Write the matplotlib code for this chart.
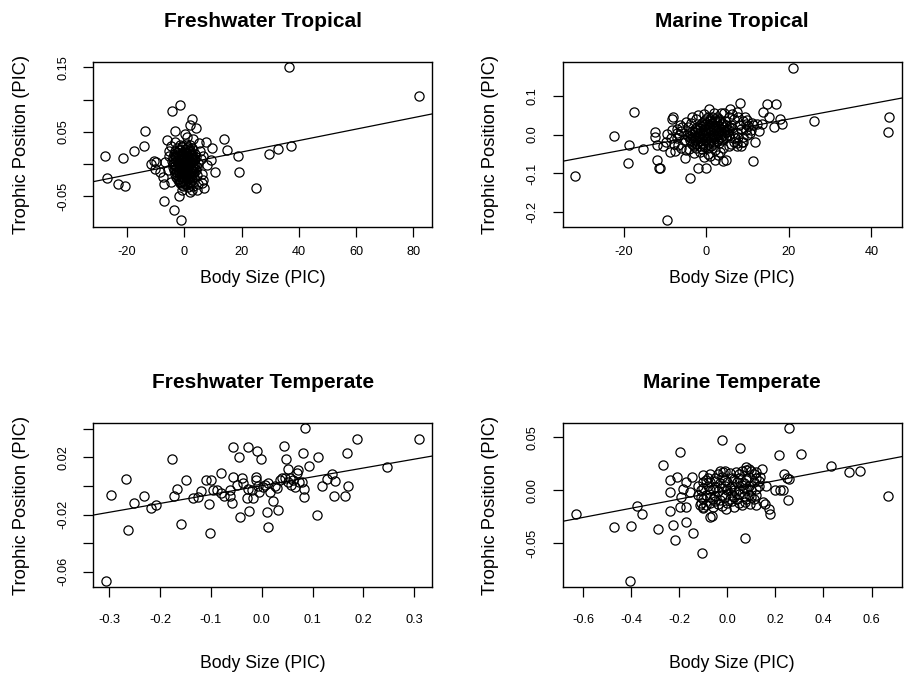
import numpy as np
import matplotlib

matplotlib.use("Agg")
import matplotlib.pyplot as plt

plt.rcParams["font.family"] = ["Liberation Sans", "DejaVu Sans"]
plt.rcParams["axes.unicode_minus"] = False

# ── data: (body size PIC, trophic position PIC) ──

fw_trop = np.array([
    # outliers / scattered
    (36.6, 0.150), (81.9, 0.105), (-1.7, 0.091), (-4.4, 0.082), (2.8, 0.070),
    (1.9, 0.060), (4.0, 0.056), (-13.6, 0.051), (-3.2, 0.051), (13.7, 0.038),
    (-14.2, 0.028), (-17.5, 0.020), (-27.6, 0.012), (-21.4, 0.009), (15.0, 0.022),
    (18.8, 0.012), (29.7, 0.015), (32.7, 0.023), (37.4, 0.028), (-26.9, -0.022),
    (-23.3, -0.031), (-20.7, -0.034), (24.9, -0.037), (19.0, -0.012), (10.8, -0.012),
    (6.9, -0.037), (-1.8, -0.050), (-7.1, -0.058), (-3.5, -0.072), (-1.3, -0.088),
    (1.9, -0.043), (-10.6, 0.004), (-11.5, 0.000), (-9.8, 0.003), (-7.2, -0.031),
    (-7.4, -0.020), (-8.6, -0.012), (-10.3, -0.008), (-3.4, 0.034), (-6.7, 0.003),
    (6.5, -0.025), (9.7, 0.025), (7.7, 0.034), (5.1, 0.032), (5.9, 0.008),
    (9.4, 0.006), (7.9, -0.002), (-6.0, 0.037), (-5.3, 0.013), (3.0, 0.039),
    (0.1, 0.046), (-1.6, -0.028), (6.0, -0.030), (-5.5, 0.020), (-5.8, -0.010),
    (5.5, 0.020), (6.0, -0.015), (4.8, -0.031), (-4.5, -0.028), (4.5, -0.040),
    (-4.8, 0.028), (1.0, 0.042), (-1.0, -0.040), (2.5, -0.040), (6.5, 0.012),
    # dense core
    (-1.5, 0.030), (0.5, 0.031), (2.0, 0.029),
    (-2.5, 0.025), (-0.8, 0.026), (1.0, 0.024), (2.8, 0.025),
    (-3.2, 0.020), (-1.8, 0.021), (-0.2, 0.019), (1.5, 0.020), (3.0, 0.021),
    (-3.8, 0.015), (-2.2, 0.014), (-0.8, 0.016), (0.8, 0.015), (2.2, 0.014), (3.6, 0.015),
    (-4.0, 0.010), (-2.8, 0.011), (-1.3, 0.009), (0.2, 0.010), (1.6, 0.011), (3.0, 0.009), (4.2, 0.010),
    (-4.2, 0.005), (-2.6, 0.004), (-1.0, 0.006), (0.5, 0.005), (2.0, 0.004), (3.4, 0.006),
    (-3.9, 0.000), (-2.4, 0.001), (-0.9, -0.001), (0.6, 0.000), (2.1, 0.001), (3.8, -0.001),
    (-4.1, -0.005), (-2.7, -0.004), (-1.4, -0.006), (0.1, -0.005), (1.5, -0.004), (3.0, -0.006), (4.3, -0.005),
    (-3.6, -0.010), (-2.0, -0.011), (-0.5, -0.009), (1.0, -0.010), (2.6, -0.011), (4.0, -0.009),
    (-3.3, -0.015), (-1.8, -0.014), (-0.2, -0.016), (1.4, -0.015), (3.0, -0.014),
    (-2.8, -0.020), (-1.1, -0.021), (0.4, -0.019), (2.0, -0.020), (3.5, -0.021),
    (-2.2, -0.025), (-0.6, -0.026), (1.0, -0.024), (2.6, -0.025),
    (-1.5, -0.030), (0.2, -0.031), (1.8, -0.029),
    (-0.6, -0.035), (1.2, -0.036), (3.0, -0.034),
    (-0.7, 0.028), (1.2, 0.027),
    (-1.6, 0.022), (0.2, 0.023), (2.0, 0.022),
    (-2.6, 0.018), (-1.0, 0.017), (0.7, 0.018), (2.3, 0.017),
    (-3.2, 0.012), (-1.8, 0.013), (-0.2, 0.012), (1.2, 0.013), (2.8, 0.012),
    (-3.4, 0.008), (-2.0, 0.007), (-0.3, 0.008), (1.2, 0.007), (2.6, 0.008), (3.8, 0.007),
    (-3.3, 0.003), (-1.7, 0.002), (-0.2, 0.003), (1.3, 0.002), (2.8, 0.003), (4.6, 0.002),
    (-3.2, -0.003), (-1.6, -0.002), (-0.1, -0.003), (1.4, -0.002), (2.9, -0.003),
    (-3.3, -0.008), (-2.0, -0.007), (-0.6, -0.008), (0.8, -0.007), (2.3, -0.008), (3.6, -0.007),
    (-2.8, -0.013), (-1.2, -0.012), (0.3, -0.013), (1.8, -0.012), (3.3, -0.013),
    (-2.5, -0.018), (-1.0, -0.017), (0.6, -0.018), (2.2, -0.017), (4.4, -0.018),
    (-1.9, -0.023), (-0.3, -0.022), (1.3, -0.023), (2.8, -0.022),
    (-1.3, -0.028), (0.5, -0.027), (2.0, -0.028),
    (-0.8, -0.033), (0.8, -0.032), (2.3, -0.033),
])

mar_trop = np.array([
    # outliers / scattered
    (21.0, 0.172), (26.1, 0.036), (44.2, 0.046), (44.0, 0.007), (-31.8, -0.106),
    (-17.5, 0.059), (-22.3, -0.003), (-18.6, -0.028), (-19.0, -0.072), (-15.4, -0.037),
    (-9.6, -0.219), (-3.9, -0.112), (-12.0, -0.065), (-11.4, -0.086), (-11.2, -0.085),
    (-1.9, -0.086), (-0.1, -0.086), (11.2, -0.067), (14.6, 0.079), (16.8, 0.079),
    (8.2, 0.081), (13.7, 0.059), (15.3, 0.046), (16.5, 0.020), (18.4, 0.028),
    (17.8, 0.040), (12.8, 0.009), (11.8, -0.018), (7.5, -0.030), (4.1, -0.069),
    (4.8, -0.065), (2.1, -0.065), (3.3, -0.044), (0.7, 0.065), (5.7, 0.067),
    (7.4, 0.059), (-8.4, 0.040), (-8.0, 0.046), (-3.5, 0.046), (-12.4, 0.006),
    (-12.4, -0.005), (-12.0, -0.026), (-9.6, 0.001), (-9.8, -0.018), (-8.8, -0.044),
    (-7.6, -0.042), (-5.2, -0.061), (-6.4, 0.025), (-7.2, -0.009), (9.8, 0.038),
    (10.2, 0.021), (11.4, 0.025), (7.4, -0.022), (8.6, -0.018), (9.8, 0.000),
    (11.0, 0.029), (12.2, 0.028), (13.4, 0.028), (9.4, 0.046), (9.0, -0.018),
    (-10.5, -0.030), (-7.0, 0.015), (6.8, 0.040), (8.8, 0.035), (1.0, -0.056),
    (-6.0, 0.010), (-5.5, -0.015), (-6.8, -0.028), (-5.0, -0.040), (-4.5, 0.020),
    (-2.5, 0.040), (-6.5, 0.000), (7.5, 0.005), (8.0, 0.025), (7.0, -0.010),
    (6.0, -0.025), (5.5, 0.045), (3.5, 0.055), (9.0, -0.005), (9.5, 0.012),
    (10.5, 0.003), (2.0, -0.040), (-1.5, -0.045), (0.5, -0.050),
    (-8.5, -0.010), (-7.8, -0.025), (-7.0, 0.005), (-8.2, 0.012), (-6.2, -0.035),
    (-5.8, 0.020), (-4.8, 0.032), (-3.6, 0.030), (-2.0, 0.050), (-0.5, 0.052),
    (1.8, 0.056), (4.4, 0.056), (6.3, 0.052), (7.8, 0.045), (8.5, 0.015),
    (7.8, -0.005), (6.8, -0.018), (5.5, -0.030), (4.0, -0.035), (2.8, -0.052),
    (-0.5, -0.058), (-3.0, -0.048), (-4.2, -0.038), (10.8, 0.012), (8.4, -0.030),
    (9.6, 0.028),
    # dense core
    (0.5, 0.045), (1.5, 0.046), (2.5, 0.044),
    (-0.5, 0.035), (0.8, 0.036), (2.0, 0.034), (3.2, 0.035), (4.5, 0.036),
    (-1.5, 0.025), (-0.3, 0.026), (1.0, 0.024), (2.2, 0.025), (3.5, 0.026), (4.8, 0.024), (6.0, 0.025),
    (-2.8, 0.015), (-1.5, 0.016), (-0.2, 0.014), (1.0, 0.015), (2.3, 0.016), (3.6, 0.014), (4.9, 0.015), (6.2, 0.016),
    (-4.0, 0.005), (-2.7, 0.006), (-1.4, 0.004), (-0.1, 0.005), (1.2, 0.006), (2.5, 0.004), (3.8, 0.005), (5.1, 0.006), (6.4, 0.004),
    (-4.3, -0.005), (-3.0, -0.004), (-1.7, -0.006), (-0.4, -0.005), (0.9, -0.004), (2.2, -0.006), (3.5, -0.005), (4.8, -0.004),
    (-4.0, -0.015), (-2.7, -0.014), (-1.4, -0.016), (-0.1, -0.015), (1.2, -0.014), (2.5, -0.016), (3.8, -0.015),
    (-3.5, -0.025), (-2.2, -0.024), (-0.9, -0.026), (0.4, -0.025), (1.7, -0.024),
    (-2.5, -0.035), (-1.0, -0.036), (0.5, -0.034),
    (0.0, 0.040), (1.0, 0.041), (2.0, 0.039), (3.0, 0.040),
    (-1.0, 0.030), (0.2, 0.031), (1.4, 0.029), (2.6, 0.030), (3.9, 0.031),
    (-2.2, 0.020), (-0.9, 0.021), (0.4, 0.019), (1.6, 0.020), (2.9, 0.021), (4.2, 0.019), (5.4, 0.020),
    (-3.4, 0.010), (-2.1, 0.011), (-0.8, 0.009), (0.5, 0.010), (1.8, 0.011), (3.0, 0.009), (4.3, 0.010), (5.6, 0.011),
    (-4.6, 0.000), (-3.4, 0.001), (-2.0, -0.001), (-0.8, 0.000), (0.5, 0.001), (1.6, -0.001), (2.9, 0.000), (4.2, 0.001), (5.5, -0.001),
    (-3.6, -0.010), (-2.4, -0.009), (-1.0, -0.011), (0.3, -0.010), (1.5, -0.009), (2.9, -0.011), (4.1, -0.010),
    (-3.3, -0.020), (-2.0, -0.019), (-0.7, -0.021), (0.6, -0.020), (1.9, -0.019), (3.1, -0.021),
    (-2.9, -0.030), (-1.6, -0.029), (-0.2, -0.031), (1.1, -0.030),
])

fw_temp = np.array([
    (-0.3075, -0.0667), (-0.2964, -0.0063), (-0.2675, 0.0047), (-0.2630, -0.0308),
    (-0.2510, -0.0119), (-0.2315, -0.0070), (-0.2180, -0.0156), (-0.2090, -0.0133),
    (-0.1757, 0.0189), (-0.1725, -0.0070), (-0.1660, -0.0019), (-0.1590, -0.0268),
    (-0.1500, 0.0040), (-0.1357, -0.0086), (-0.1246, -0.0075), (-0.1190, -0.0035),
    (-0.1095, 0.0042), (-0.1030, -0.0126), (-0.1016, -0.0327), (-0.1000, 0.0042),
    (-0.0950, -0.0028), (-0.0885, -0.0028), (-0.0807, 0.0089), (-0.0740, -0.0070),
    (-0.0623, -0.0028), (-0.0577, -0.0117), (-0.0557, 0.0065), (-0.0557, 0.0271),
    (-0.0490, 0.0007), (-0.0452, 0.0205), (-0.0426, -0.0215), (-0.0393, 0.0054),
    (-0.0360, 0.0019), (-0.0295, -0.0086), (-0.0262, 0.0271), (-0.0243, -0.0175),
    (-0.0197, -0.0028), (-0.0164, -0.0086), (-0.0118, 0.0065), (-0.0111, 0.0042),
    (-0.0085, 0.0245), (-0.0046, -0.0040), (-0.0020, 0.0187), (0.0033, -0.0005),
    (0.0098, -0.0180), (0.0118, 0.0019), (0.0125, -0.0289), (0.0164, -0.0040),
    (0.0216, -0.0103), (0.0262, 0.0000), (0.0315, -0.0168), (0.0360, 0.0042),
    (0.0393, 0.0054), (0.0439, 0.0280), (0.0479, 0.0189), (0.0525, 0.0117),
    (0.0557, 0.0058), (0.0610, 0.0042), (0.0656, -0.0005), (0.0690, 0.0089),
    (0.0708, 0.0112), (0.0787, 0.0028), (0.0807, 0.0229), (0.0833, -0.0023),
    (0.0840, -0.0079), (0.0852, 0.0404), (0.0938, 0.0140), (0.1082, -0.0201),
    (0.1115, 0.0201), (0.1180, 0.0000), (0.1279, 0.0047), (0.1377, 0.0084),
    (0.1423, -0.0070), (0.1449, 0.0037), (0.1639, -0.0070), (0.1685, 0.0229),
    (0.1705, 0.0000), (0.1882, 0.0327), (0.2459, 0.0135), (0.3089, 0.0327),
    (0.0295, -0.0016), (0.0459, 0.0054), (0.0520, 0.0030), (0.0070, 0.0010),
    (-0.0070, 0.0000), (-0.0270, -0.0020), (-0.0800, -0.0050), (-0.0620, -0.0070),
    (0.0740, 0.0030), (0.0580, 0.0010),
])

mar_temp = np.array([
    # outliers / scattered
    (0.258, 0.0585), (-0.021, 0.0475), (0.0516, 0.0400), (-0.198, 0.0361), (0.215, 0.0336),
    (0.306, 0.0340), (-0.267, 0.0236), (0.431, 0.0230), (0.506, 0.0173), (0.552, 0.0180),
    (0.669, -0.0054), (-0.630, -0.0220), (-0.472, -0.0346), (-0.402, -0.0337), (-0.406, -0.0859),
    (-0.375, -0.0148), (-0.353, -0.0227), (-0.287, -0.0368), (-0.237, -0.0198), (-0.226, -0.0330),
    (-0.219, -0.0466), (-0.170, -0.0300), (-0.143, -0.0403), (-0.105, -0.0588), (0.072, -0.0450),
    (-0.237, -0.0016), (-0.209, 0.0125), (-0.240, 0.0094), (-0.147, 0.0130), (-0.170, 0.0078),
    (-0.184, 0.0015), (-0.191, -0.0063), (-0.173, -0.0157), (-0.195, -0.0157), (-0.156, -0.0016),
    (-0.115, -0.0142), (-0.100, -0.0170), (-0.073, -0.0250), (-0.064, -0.0243), (-0.007, -0.0180),
    (0.072, -0.0110), (0.093, -0.0126), (0.120, -0.0140), (-0.101, 0.0141), (-0.073, 0.0157),
    (-0.018, 0.0173), (0.037, 0.0173), (0.077, 0.0220), (0.092, 0.0200), (0.120, 0.0170),
    (0.237, 0.0150), (0.258, 0.0110), (0.250, 0.0120), (0.198, 0.0000), (0.219, 0.0000),
    (0.233, 0.0000), (0.160, 0.0040), (0.251, -0.0094), (0.150, -0.0110), (0.157, -0.0126),
    (0.175, -0.0180), (0.178, -0.0220), (0.143, 0.0200), (0.136, 0.0127),
    # dense core
    (-0.03, 0.018), (-0.01, 0.018), (0.06, 0.018), (0.08, 0.019), (0.10, 0.018),
    (-0.08, 0.012), (-0.05, 0.012), (-0.02, 0.013), (0.02, 0.012), (0.05, 0.012), (0.09, 0.013), (0.12, 0.012),
    (-0.10, 0.008), (-0.07, 0.008), (-0.03, 0.007), (0.00, 0.008), (0.04, 0.008), (0.07, 0.007), (0.11, 0.008),
    (-0.12, 0.004), (-0.08, 0.004), (-0.05, 0.003), (-0.01, 0.004), (0.02, 0.004), (0.06, 0.005), (0.09, 0.004), (0.13, 0.004),
    (-0.11, 0.000), (-0.07, 0.000), (-0.04, -0.001), (0.00, 0.000), (0.03, 0.000), (0.07, 0.001), (0.10, 0.000),
    (-0.12, -0.004), (-0.09, -0.004), (-0.05, -0.005), (-0.02, -0.004), (0.02, -0.004), (0.05, -0.003), (0.09, -0.004), (0.12, -0.004),
    (-0.10, -0.008), (-0.06, -0.008), (-0.03, -0.009), (0.01, -0.008), (0.04, -0.008), (0.08, -0.008), (0.11, -0.008),
    (-0.11, -0.012), (-0.07, -0.012), (-0.04, -0.013), (0.00, -0.012), (0.05, -0.012),
    (-0.10, -0.016), (-0.06, -0.016), (-0.02, -0.015), (0.03, -0.016),
    (-0.09, 0.010), (-0.05, 0.009), (-0.01, 0.010), (0.03, 0.011), (0.08, 0.010), (0.13, 0.009),
    (-0.10, 0.002), (-0.06, 0.001), (-0.02, 0.002), (0.01, 0.002), (0.05, 0.001), (0.08, 0.002), (0.12, 0.001),
    (-0.11, -0.006), (-0.07, -0.006), (-0.01, -0.006), (0.03, -0.006), (0.07, -0.005), (0.10, -0.006),
    (-0.09, -0.014), (-0.05, -0.010), (0.02, -0.010), (0.06, -0.014),
    (-0.04, 0.015), (0.01, 0.016), (0.05, 0.015), (0.11, 0.015),
])

# abline coefficients (intercept, slope)
fw_trop_fit = (0.0007, 0.00089)
mar_trop_fit = (0.0003, 0.00198)
fw_temp_fit = (0.0002, 0.0619)
mar_temp_fit = (0.0004, 0.0433)

panels = [
    dict(title="Freshwater Tropical", pts=fw_trop, fit=fw_trop_fit,
         xlim=(-31.8, 86.6), ylim=(-0.0977, 0.158),
         xticks=[-20, 0, 20, 40, 60, 80], xlabels=["-20", "0", "20", "40", "60", "80"],
         yticks=[-0.05, 0.0, 0.05, 0.10, 0.15], ylabels=["-0.05", "", "0.05", "", "0.15"],
         rect=[0.1028, 0.670, 0.3733, 0.2393], top=True),
    dict(title="Marine Tropical", pts=mar_trop, fit=mar_trop_fit,
         xlim=(-34.7, 47.3), ylim=(-0.237, 0.186),
         xticks=[-20, 0, 20, 40], xlabels=["-20", "0", "20", "40"],
         yticks=[-0.2, -0.1, 0.0, 0.1], ylabels=["-0.2", "-0.1", "0.0", "0.1"],
         rect=[0.6200, 0.670, 0.3730, 0.2393], top=True),
    dict(title="Freshwater Temperate", pts=fw_temp, fit=fw_temp_fit,
         xlim=(-0.3315, 0.3358), ylim=(-0.0709, 0.0443),
         xticks=[-0.3, -0.2, -0.1, 0.0, 0.1, 0.2, 0.3],
         xlabels=["-0.3", "-0.2", "-0.1", "0.0", "0.1", "0.2", "0.3"],
         yticks=[-0.06, -0.04, -0.02, 0.0, 0.02, 0.04],
         ylabels=["-0.06", "", "-0.02", "", "0.02", ""],
         rect=[0.1028, 0.1451, 0.3733, 0.2396], top=False),
    dict(title="Marine Temperate", pts=mar_temp, fit=mar_temp_fit,
         xlim=(-0.683, 0.725), ylim=(-0.0915, 0.0638),
         xticks=[-0.6, -0.4, -0.2, 0.0, 0.2, 0.4, 0.6],
         xlabels=["-0.6", "-0.4", "-0.2", "0.0", "0.2", "0.4", "0.6"],
         yticks=[-0.05, 0.0, 0.05], ylabels=["-0.05", "0.00", "0.05"],
         rect=[0.6200, 0.1451, 0.3730, 0.2396], top=False),
]

fig = plt.figure(figsize=(9.08, 6.87), dpi=100)

for p in panels:
    ax = fig.add_axes(p["rect"])
    pts = p["pts"]
    ax.plot(pts[:, 0], pts[:, 1], "o", ms=6.6, mfc="none", mec="black", mew=0.9)
    b, m = p["fit"]
    ax.axline((0, b), slope=m, color="black", lw=0.9)

    ax.set_xlim(*p["xlim"])
    ax.set_ylim(*p["ylim"])
    ax.set_xticks(p["xticks"])
    ax.set_xticklabels(p["xlabels"])
    ax.set_yticks(p["yticks"])
    ax.set_yticklabels(p["ylabels"], rotation=90, va="center")

    xpad = 6.8 if p["top"] else 12.0
    ax.tick_params(axis="x", direction="out", length=7, width=0.9, labelsize=9.2, pad=xpad)
    ax.tick_params(axis="y", direction="out", length=7, width=0.9, labelsize=9.2, pad=10.5)
    for s in ax.spines.values():
        s.set_linewidth(1.0)

    xl_y = -0.314 if p["top"] else -0.462
    ax.text(0.5, xl_y, "Body Size (PIC)", transform=ax.transAxes,
            ha="center", va="center", fontsize=12.7)
    ax.text(-0.213, 0.5, "Trophic Position (PIC)", transform=ax.transAxes,
            ha="center", va="center", rotation=90, fontsize=13.2)
    ax.text(0.5, 1.246, p["title"], transform=ax.transAxes,
            ha="center", va="center", fontsize=15, fontweight="bold")

fig.savefig("out.png", dpi=100)
